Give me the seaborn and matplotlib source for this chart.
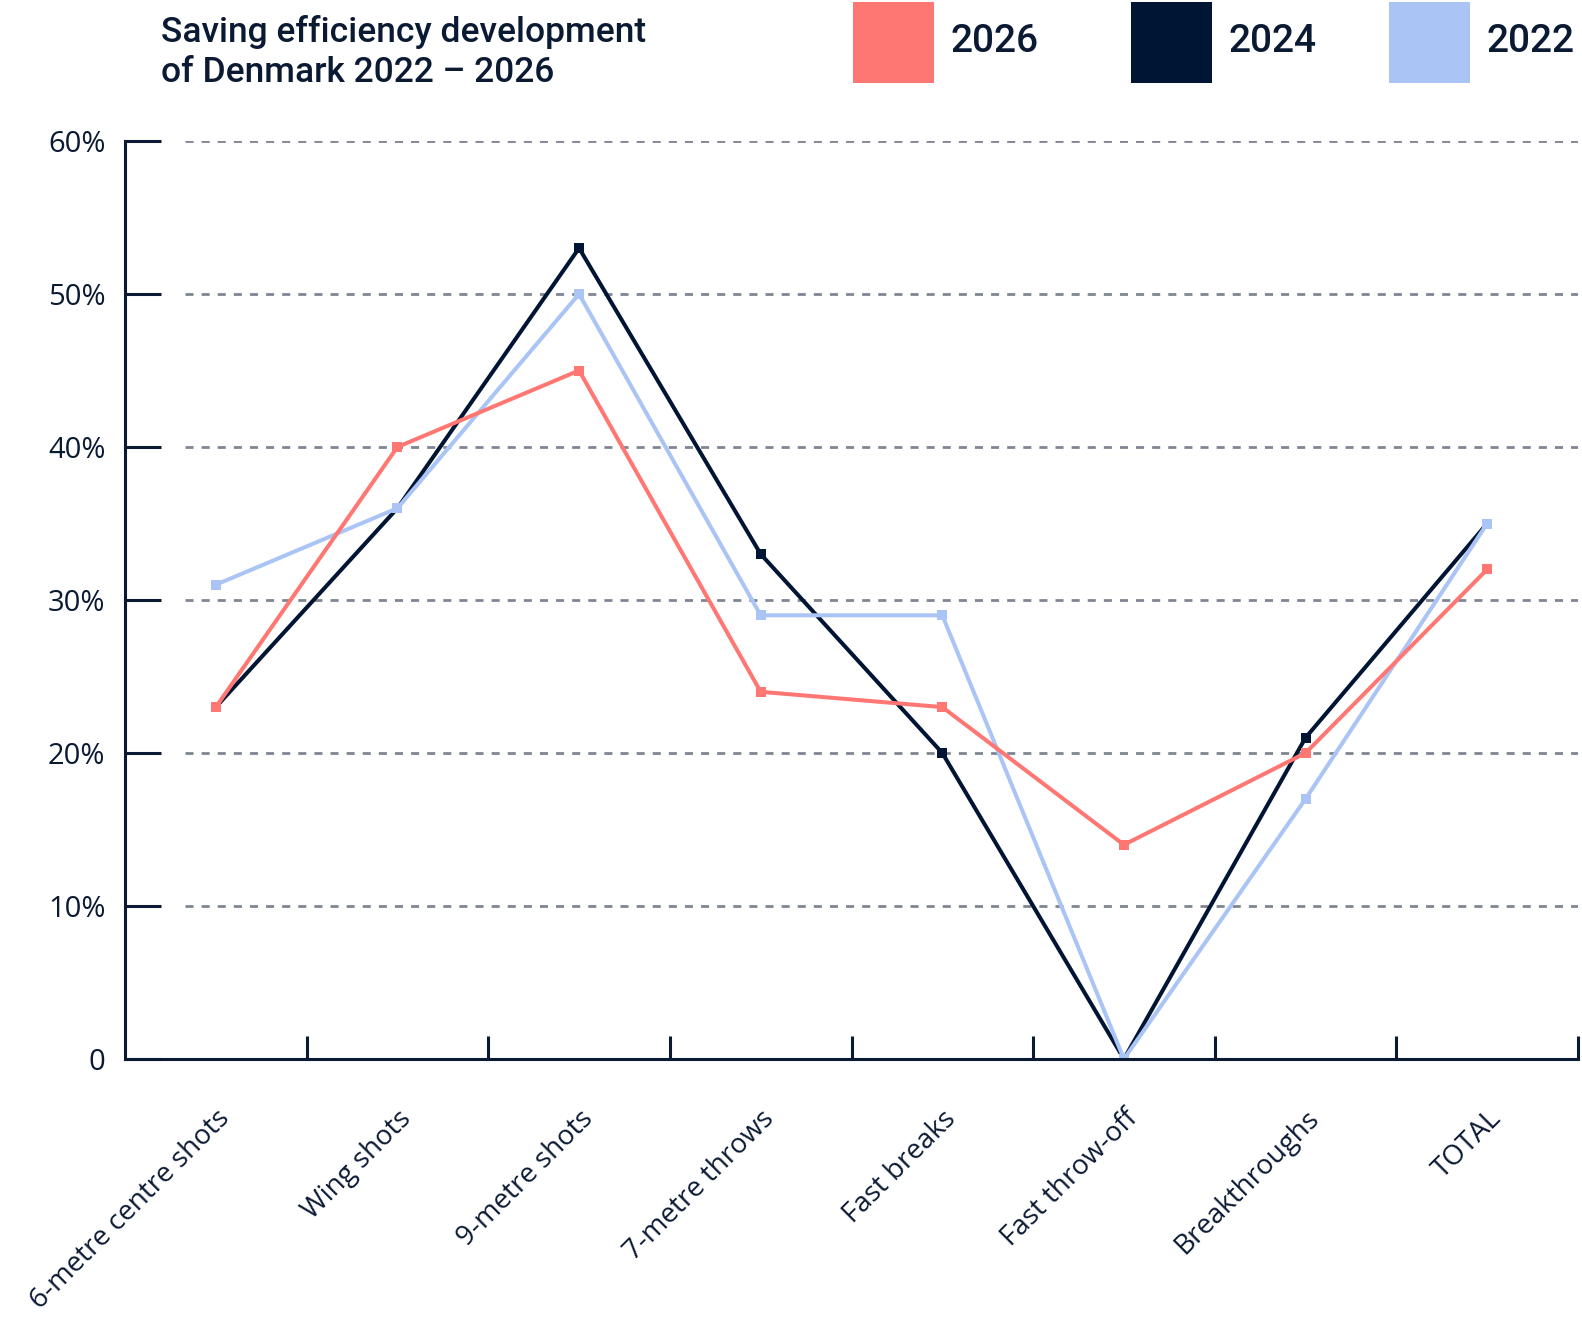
import numpy as np
import pandas as pd
import seaborn as sns
import matplotlib.pyplot as plt
from matplotlib.patches import Rectangle

categories = ["6-metre centre shots", "Wing shots", "9-metre shots", "7-metre throws",
              "Fast breaks", "Fast throw-off", "Breakthroughs", "TOTAL"]
values_2026 = [23, 40, 45, 24, 23, 14, 20, 32]
values_2024 = [23, 36, 53, 33, 20, 0, 21, 35]
values_2022 = [31, 36, 50, 29, 29, 0, 17, 35]
legend_years = ["2026", "2024", "2022"]
y_ticks = [0, 10, 20, 30, 40, 50, 60]
y_tick_labels = ["0", "10%", "20%", "30%", "40%", "50%", "60%"]

colors = {"2026": "#FF7773", "2024": "#001533", "2022": "#AAC4F5"}
navy = "#0B1A33"
grid_grey = "#7F8593"

df = pd.concat([
    pd.DataFrame({"category": categories, "value": v, "year": y})
    for y, v in [("2024", values_2024), ("2022", values_2022), ("2026", values_2026)]
], ignore_index=True)

sns.set_theme(style="white")
plt.rcParams["font.family"] = ["Open Sans", "DejaVu Sans"]
plt.rcParams["font.weight"] = 500
plt.rcParams["text.color"] = navy

W, H = 1582, 1318
fig = plt.figure(figsize=(W / 100, H / 100), dpi=100)
ax = fig.add_axes([125 / W, 1 - 1059 / H, (1578 - 125) / W, (1059 - 141) / H])

# grid first so the lines sit on top
ax.hlines(y_ticks[1:], -0.17, 7.5, colors=grid_grey, linewidth=2,
          linestyles=(0, (2.9, 2.9)), zorder=0)

# 2024 bottom, then 2022, then 2026 on top
sns.lineplot(data=df, x="category", y="value", hue="year",
             hue_order=["2024", "2022", "2026"], palette=colors,
             marker="s", markersize=6.5, markeredgewidth=0, linewidth=2.9,
             errorbar=None, sort=False, legend=False, ax=ax)

ax.set_xlim(-0.5, 7.5)
ax.set_ylim(0, 60)
ax.set_xlabel("")
ax.set_ylabel("")

ax.set_yticks(y_ticks, y_tick_labels)
ax.tick_params(axis="y", left=True, direction="in", length=26, width=2.2, color=navy,
               pad=14, labelsize=21, labelcolor=navy)

ax.set_xticks(range(len(categories)), categories)
ax.set_xticks(np.arange(0.5, len(categories), 1), minor=True)
ax.tick_params(axis="x", which="major", bottom=True, length=0, pad=33,
               labelsize=20, labelcolor=navy)
ax.tick_params(axis="x", which="minor", bottom=True, direction="in", length=16.5,
               width=2.2, color=navy)
for lab in ax.get_xticklabels():
    lab.set_rotation(45)
    lab.set_ha("right")
    lab.set_va("top")
    lab.set_rotation_mode("anchor")

for side in ["top", "right"]:
    ax.spines[side].set_visible(False)
for side in ["left", "bottom"]:
    ax.spines[side].set_linewidth(2.2)
    ax.spines[side].set_color(navy)

# title
fig.text(161 / W, 1 - 52 / H, "Saving efficiency development\nof Denmark 2022 – 2026",
         ha="left", va="center", fontsize=25.5, fontweight="medium", linespacing=1.25,
         family=["Roboto", "DejaVu Sans"])

# legend boxes at the top
box_left = {"2026": 853, "2024": 1131, "2022": 1389}
for y in legend_years:
    x0 = box_left[y]
    fig.add_artist(Rectangle((x0 / W, 1 - 83 / H), 81 / W, 81 / H,
                             transform=fig.transFigure, color=colors[y], lw=0))
    fig.text((x0 + 97) / W, 1 - 42 / H, y, ha="left", va="center", fontsize=28,
             fontweight="medium", family=["Roboto", "DejaVu Sans"])

fig.savefig("out.png", dpi=100)
